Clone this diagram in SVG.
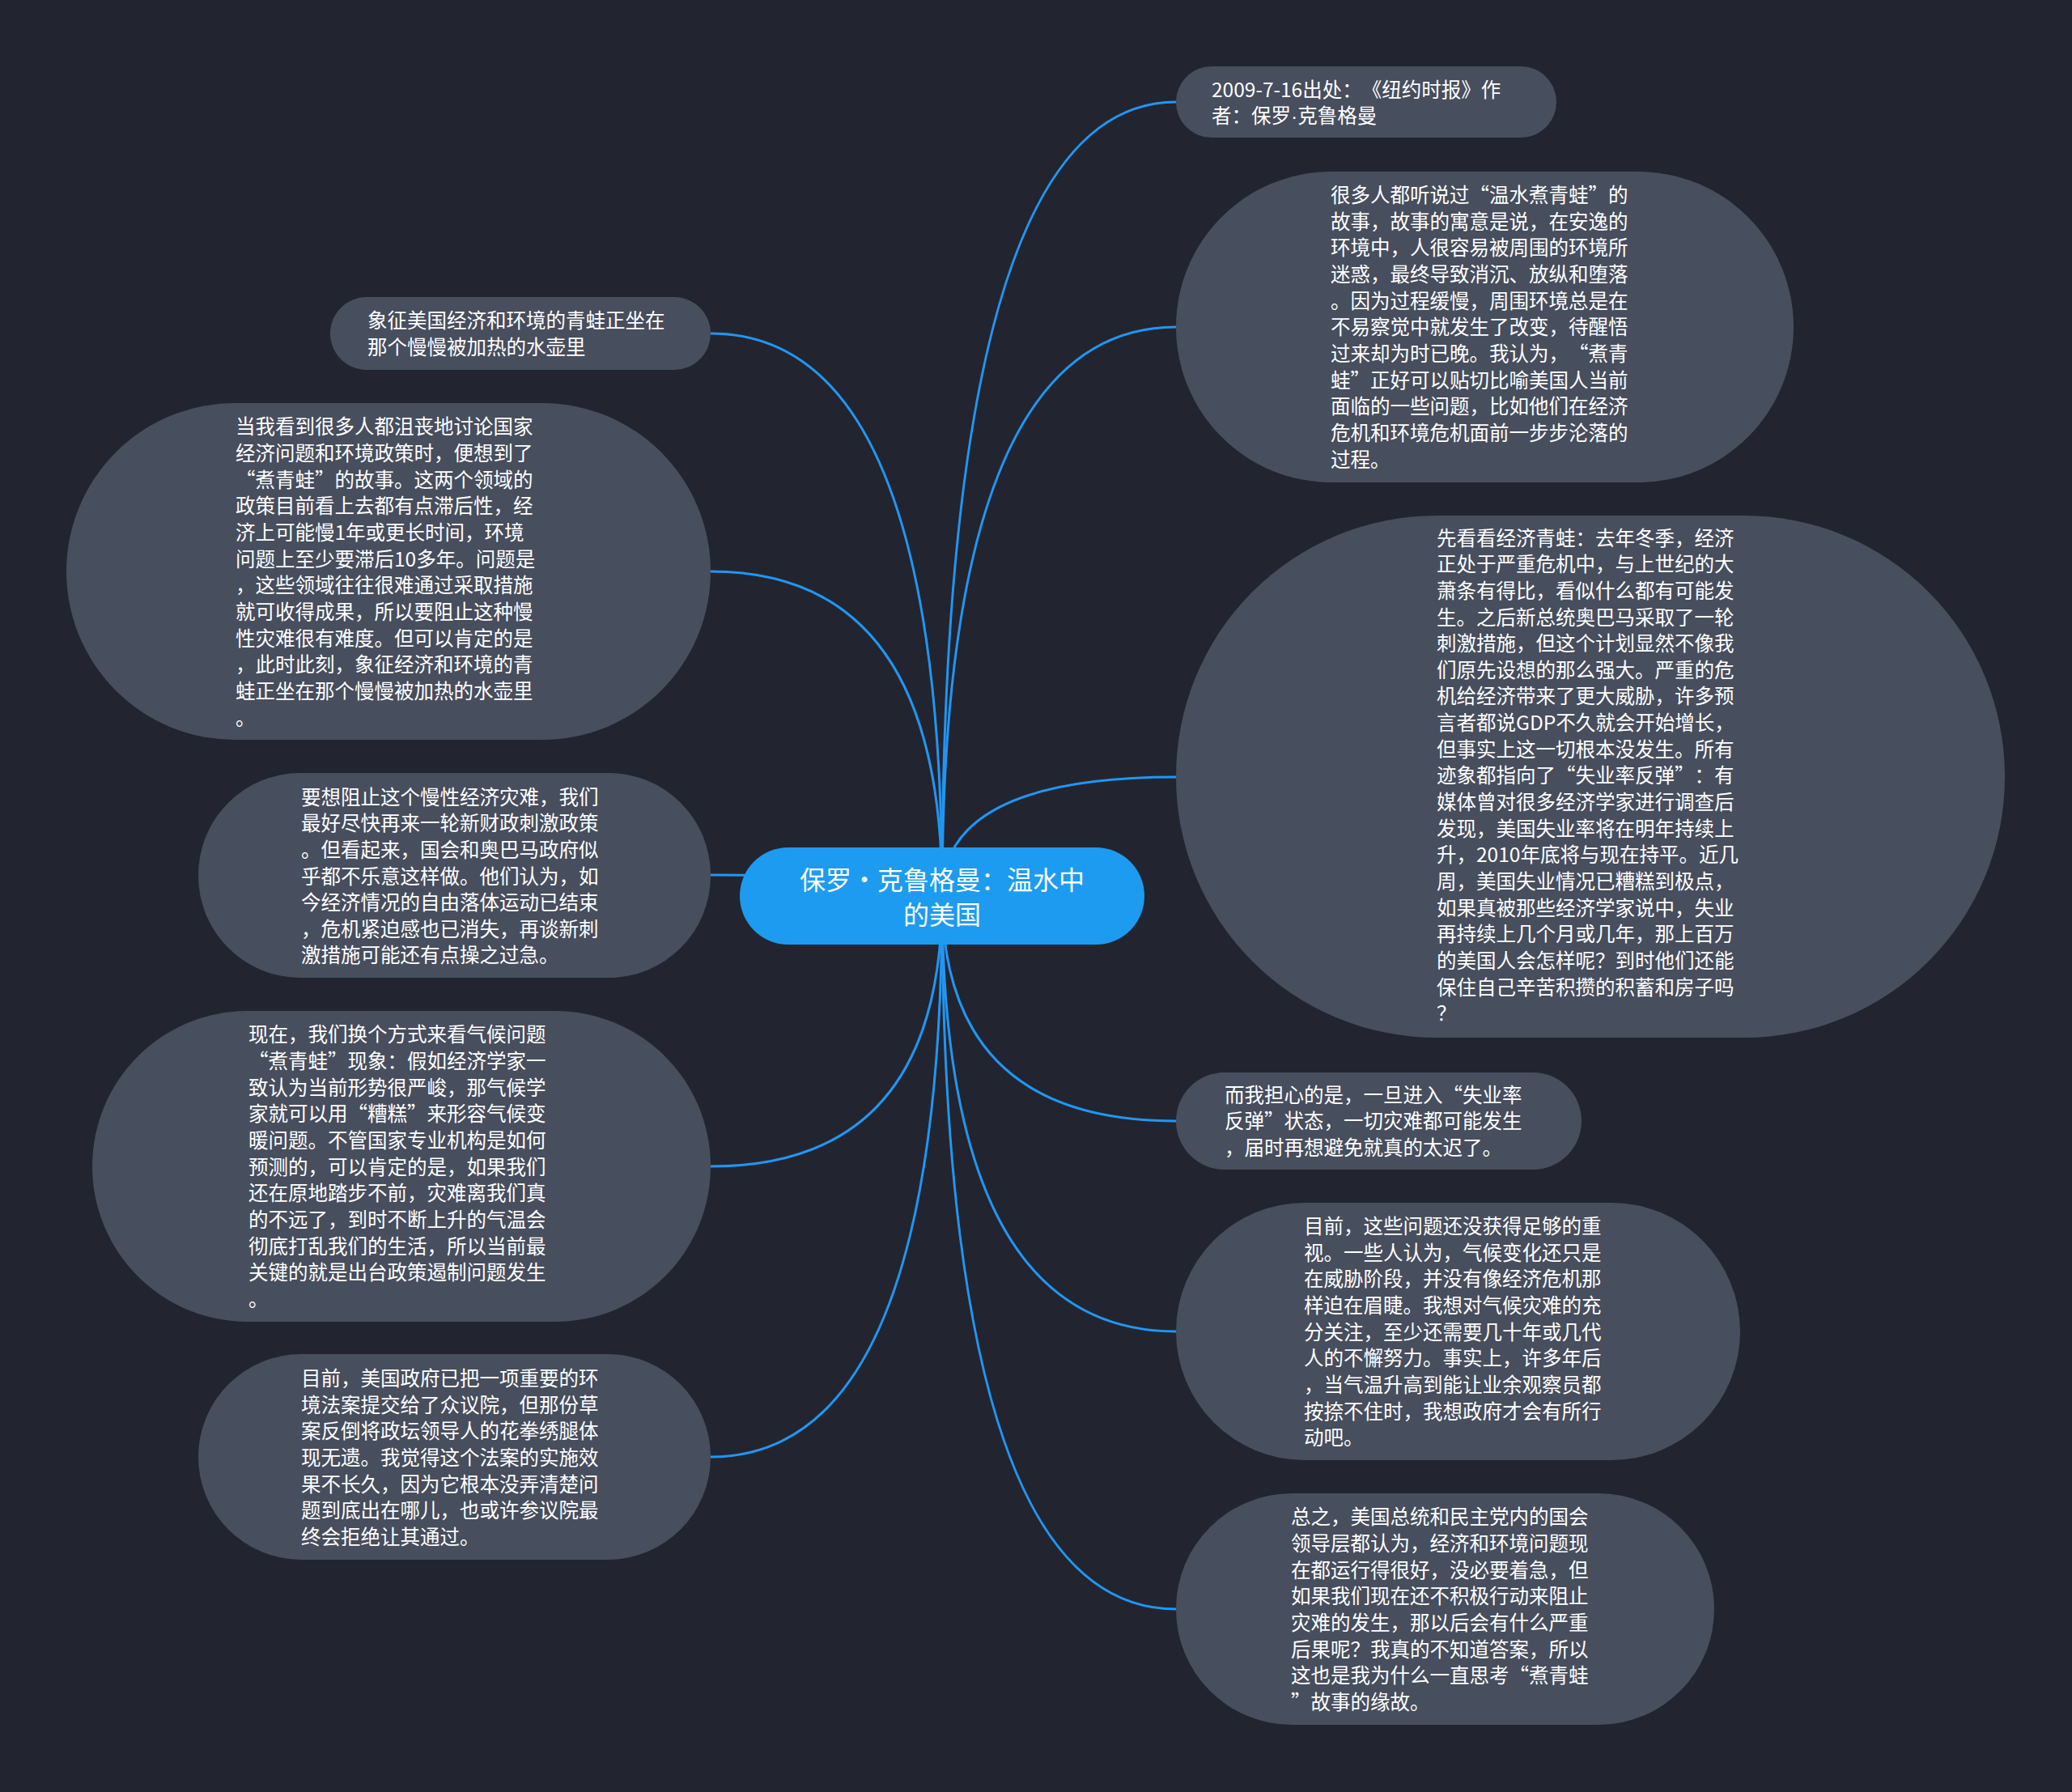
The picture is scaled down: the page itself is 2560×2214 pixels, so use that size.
<svg xmlns="http://www.w3.org/2000/svg" width="2560" height="2214" viewBox="0 0 2560 2214">
<style>
.bg{fill:#22252f}
.node{fill:#474e5d}
.root{fill:#1d9bf0}
.t{font-family:"Noto Sans CJK SC","Noto Sans",sans-serif;font-size:24.5px;fill:#ffffff;text-spacing-trim:space-all}
.rt{font-family:"Noto Sans CJK SC","Noto Sans",sans-serif;font-size:32px;fill:#ffffff;text-anchor:middle;text-spacing-trim:space-all}
.dot{font-family:"Liberation Sans",sans-serif}
.link{fill:none;stroke:#2196f3;stroke-width:3}
</style>
<rect class="bg" x="0" y="0" width="2560" height="2214"/>
<g id="connectors">
<path class="link" d="M1164 1106 Q1164 126 1453 126"/>
<path class="link" d="M1164 1106 Q1164 404 1453 404"/>
<path class="link" d="M1164 1106 Q1164 960 1453 960"/>
<path class="link" d="M1164 1106 Q1164 1385 1453 1385"/>
<path class="link" d="M1164 1106 Q1164 1645 1453 1645"/>
<path class="link" d="M1164 1106 Q1164 1988 1453 1988"/>
<path class="link" d="M1164 1106 Q1164 412 878 412"/>
<path class="link" d="M1164 1106 Q1164 706 878 706"/>
<path class="link" d="M1164 1106 Q1164 1081 878 1081"/>
<path class="link" d="M1164 1106 Q1164 1441 878 1441"/>
<path class="link" d="M1164 1106 Q1164 1800 878 1800"/>
</g>
<g id="root">
<rect class="root" x="914" y="1047" width="500" height="120" rx="60"/>
<text class="rt"><tspan x="1164" y="1099">保罗·克鲁格曼：温水中</tspan><tspan x="1164" y="1142">的美国</tspan></text>
</g>
<g id="n1">
<rect class="node" x="1453" y="82" width="470" height="88" rx="44"/>
<text class="t"><tspan x="1497" y="119.5">2009-7-16出处：《纽约时报》作</tspan><tspan x="1497" y="152">者：保罗<tspan class="dot">·</tspan>克鲁格曼</tspan></text>
</g>
<g id="n2">
<rect class="node" x="1453" y="212" width="763" height="384" rx="192"/>
<text class="t">
<tspan x="1644" y="250">很多人都听说过“温水煮青蛙”的</tspan>
<tspan x="1644" y="282.7">故事，故事的寓意是说，在安逸的</tspan>
<tspan x="1644" y="315.3">环境中，人很容易被周围的环境所</tspan>
<tspan x="1644" y="348">迷惑，最终导致消沉、放纵和堕落</tspan>
<tspan x="1644" y="380.6">。因为过程缓慢，周围环境总是在</tspan>
<tspan x="1644" y="413.3">不易察觉中就发生了改变，待醒悟</tspan>
<tspan x="1644" y="445.9">过来却为时已晚。我认为，“煮青</tspan>
<tspan x="1644" y="478.6">蛙”正好可以贴切比喻美国人当前</tspan>
<tspan x="1644" y="511.2">面临的一些问题，比如他们在经济</tspan>
<tspan x="1644" y="543.9">危机和环境危机面前一步步沦落的</tspan>
<tspan x="1644" y="576.5">过程。</tspan>
</text>
</g>
<g id="n3">
<rect class="node" x="1453" y="637" width="1024" height="645" rx="322"/>
<text class="t">
<tspan x="1775" y="673.5">先看看经济青蛙：去年冬季，经济</tspan>
<tspan x="1775" y="706.2">正处于严重危机中，与上世纪的大</tspan>
<tspan x="1775" y="738.8">萧条有得比，看似什么都有可能发</tspan>
<tspan x="1775" y="771.5">生。之后新总统奥巴马采取了一轮</tspan>
<tspan x="1775" y="804.1">刺激措施，但这个计划显然不像我</tspan>
<tspan x="1775" y="836.8">们原先设想的那么强大。严重的危</tspan>
<tspan x="1775" y="869.4">机给经济带来了更大威胁，许多预</tspan>
<tspan x="1775" y="902.1">言者都说GDP不久就会开始增长，</tspan>
<tspan x="1775" y="934.7">但事实上这一切根本没发生。所有</tspan>
<tspan x="1775" y="967.4">迹象都指向了“失业率反弹”：有</tspan>
<tspan x="1775" y="1000">媒体曾对很多经济学家进行调查后</tspan>
<tspan x="1775" y="1032.7">发现，美国失业率将在明年持续上</tspan>
<tspan x="1775" y="1065.3">升，2010年底将与现在持平。近几</tspan>
<tspan x="1775" y="1098">周，美国失业情况已糟糕到极点，</tspan>
<tspan x="1775" y="1130.6">如果真被那些经济学家说中，失业</tspan>
<tspan x="1775" y="1163.3">再持续上几个月或几年，那上百万</tspan>
<tspan x="1775" y="1195.9">的美国人会怎样呢？到时他们还能</tspan>
<tspan x="1775" y="1228.6">保住自己辛苦积攒的积蓄和房子吗</tspan>
<tspan x="1775" y="1261.2">？</tspan>
</text>
</g>
<g id="n4">
<rect class="node" x="1453" y="1325" width="501" height="120" rx="60"/>
<text class="t">
<tspan x="1513" y="1361.5">而我担心的是，一旦进入“失业率</tspan>
<tspan x="1513" y="1394.2">反弹”状态，一切灾难都可能发生</tspan>
<tspan x="1513" y="1426.8">，届时再想避免就真的太迟了。</tspan>
</text>
</g>
<g id="n5">
<rect class="node" x="1453" y="1486" width="697" height="318" rx="159"/>
<text class="t">
<tspan x="1611" y="1524">目前，这些问题还没获得足够的重</tspan>
<tspan x="1611" y="1556.7">视。一些人认为，气候变化还只是</tspan>
<tspan x="1611" y="1589.3">在威胁阶段，并没有像经济危机那</tspan>
<tspan x="1611" y="1622">样迫在眉睫。我想对气候灾难的充</tspan>
<tspan x="1611" y="1654.6">分关注，至少还需要几十年或几代</tspan>
<tspan x="1611" y="1687.3">人的不懈努力。事实上，许多年后</tspan>
<tspan x="1611" y="1719.9">，当气温升高到能让业余观察员都</tspan>
<tspan x="1611" y="1752.6">按捺不住时，我想政府才会有所行</tspan>
<tspan x="1611" y="1785.2">动吧。</tspan>
</text>
</g>
<g id="n6">
<rect class="node" x="1453" y="1845" width="665" height="286" rx="143"/>
<text class="t">
<tspan x="1595" y="1883.3">总之，美国总统和民主党内的国会</tspan>
<tspan x="1595" y="1916">领导层都认为，经济和环境问题现</tspan>
<tspan x="1595" y="1948.6">在都运行得很好，没必要着急，但</tspan>
<tspan x="1595" y="1981.3">如果我们现在还不积极行动来阻止</tspan>
<tspan x="1595" y="2013.9">灾难的发生，那以后会有什么严重</tspan>
<tspan x="1595" y="2046.6">后果呢？我真的不知道答案，所以</tspan>
<tspan x="1595" y="2079.2">这也是我为什么一直思考“煮青蛙</tspan>
<tspan x="1595" y="2111.9">”故事的缘故。</tspan>
</text>
</g>
<g id="n7">
<rect class="node" x="408" y="367" width="470" height="90" rx="45"/>
<text class="t">
<tspan x="454" y="405">象征美国经济和环境的青蛙正坐在</tspan>
<tspan x="454" y="437.7">那个慢慢被加热的水壶里</tspan>
</text>
</g>
<g id="n8">
<rect class="node" x="82" y="498" width="796" height="416" rx="208"/>
<text class="t">
<tspan x="291" y="536.4">当我看到很多人都沮丧地讨论国家</tspan>
<tspan x="291" y="569.1">经济问题和环境政策时，便想到了</tspan>
<tspan x="291" y="601.7">“煮青蛙”的故事。这两个领域的</tspan>
<tspan x="291" y="634.4">政策目前看上去都有点滞后性，经</tspan>
<tspan x="291" y="667">济上可能慢1年或更长时间，环境</tspan>
<tspan x="291" y="699.7">问题上至少要滞后10多年。问题是</tspan>
<tspan x="291" y="732.3">，这些领域往往很难通过采取措施</tspan>
<tspan x="291" y="765">就可收得成果，所以要阻止这种慢</tspan>
<tspan x="291" y="797.6">性灾难很有难度。但可以肯定的是</tspan>
<tspan x="291" y="830.3">，此时此刻，象征经济和环境的青</tspan>
<tspan x="291" y="862.9">蛙正坐在那个慢慢被加热的水壶里</tspan>
<tspan x="291" y="895.6">。</tspan>
</text>
</g>
<g id="n9">
<rect class="node" x="245" y="955" width="633" height="253" rx="126"/>
<text class="t">
<tspan x="372" y="993.5">要想阻止这个慢性经济灾难，我们</tspan>
<tspan x="372" y="1026.2">最好尽快再来一轮新财政刺激政策</tspan>
<tspan x="372" y="1058.8">。但看起来，国会和奥巴马政府似</tspan>
<tspan x="372" y="1091.5">乎都不乐意这样做。他们认为，如</tspan>
<tspan x="372" y="1124.1">今经济情况的自由落体运动已结束</tspan>
<tspan x="372" y="1156.8">，危机紧迫感也已消失，再谈新刺</tspan>
<tspan x="372" y="1189.4">激措施可能还有点操之过急。</tspan>
</text>
</g>
<g id="n10">
<rect class="node" x="114" y="1249" width="764" height="384" rx="192"/>
<text class="t">
<tspan x="307" y="1287.4">现在，我们换个方式来看气候问题</tspan>
<tspan x="307" y="1320.1">“煮青蛙”现象：假如经济学家一</tspan>
<tspan x="307" y="1352.7">致认为当前形势很严峻，那气候学</tspan>
<tspan x="307" y="1385.4">家就可以用“糟糕”来形容气候变</tspan>
<tspan x="307" y="1418">暖问题。不管国家专业机构是如何</tspan>
<tspan x="307" y="1450.7">预测的，可以肯定的是，如果我们</tspan>
<tspan x="307" y="1483.3">还在原地踏步不前，灾难离我们真</tspan>
<tspan x="307" y="1516">的不远了，到时不断上升的气温会</tspan>
<tspan x="307" y="1548.6">彻底打乱我们的生活，所以当前最</tspan>
<tspan x="307" y="1581.3">关键的就是出台政策遏制问题发生</tspan>
<tspan x="307" y="1613.9">。</tspan>
</text>
</g>
<g id="n11">
<rect class="node" x="245" y="1673" width="633" height="254" rx="127"/>
<text class="t">
<tspan x="372" y="1712">目前，美国政府已把一项重要的环</tspan>
<tspan x="372" y="1744.7">境法案提交给了众议院，但那份草</tspan>
<tspan x="372" y="1777.3">案反倒将政坛领导人的花拳绣腿体</tspan>
<tspan x="372" y="1810">现无遗。我觉得这个法案的实施效</tspan>
<tspan x="372" y="1842.6">果不长久，因为它根本没弄清楚问</tspan>
<tspan x="372" y="1875.3">题到底出在哪儿，也或许参议院最</tspan>
<tspan x="372" y="1907.9">终会拒绝让其通过。</tspan>
</text>
</g>
</svg>
